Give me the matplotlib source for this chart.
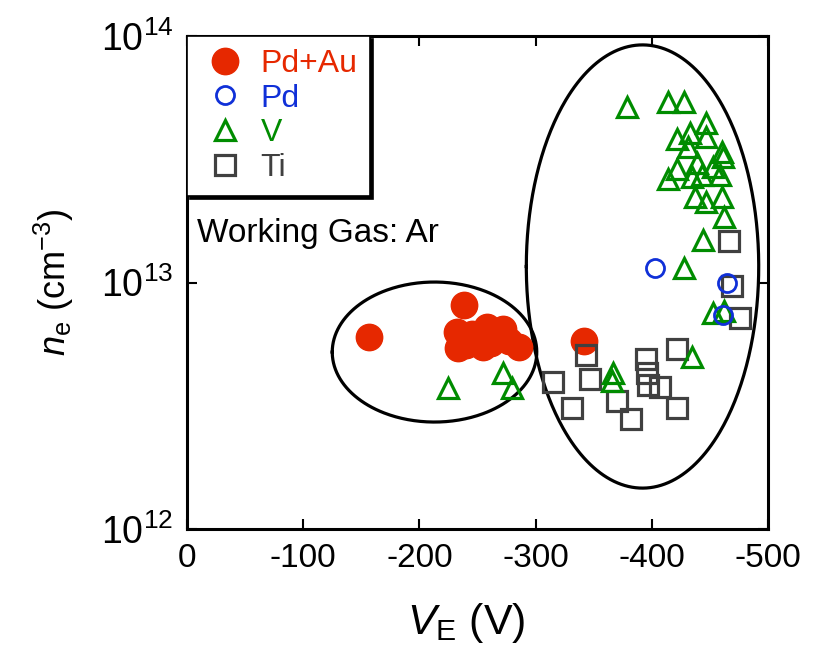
import numpy as np
import matplotlib
matplotlib.use("Agg")
import matplotlib.pyplot as plt
from matplotlib.lines import Line2D

plt.rcParams['font.family'] = ['Liberation Sans', 'DejaVu Sans']
plt.rcParams['mathtext.fontset'] = 'custom'
plt.rcParams['mathtext.rm'] = 'Liberation Sans'
plt.rcParams['mathtext.it'] = 'Liberation Sans:italic'

# ---------------- data ----------------
pdau_x = [-157, -238, -232, -233, -240, -245, -255, -258, -262, -272, -277, -286, -342]
pdau_y = [6.0e12, 8.1e12, 6.3e12, 5.4e12, 5.6e12, 6.2e12, 5.5e12, 6.6e12, 5.7e12,
          6.5e12, 5.8e12, 5.5e12, 5.8e12]

pd_x = [-403, -465, -461]
pd_y = [1.15e13, 1.0e13, 7.4e12]

v_x = [-225, -272, -280, -379, -414, -428, -447, -433, -422, -447, -431, -460, -461,
       -439, -422, -453, -443, -414, -435, -459, -437, -447, -460, -462, -444, -428,
       -453, -462, -367, -366, -435]
v_y = [3.73e12, 4.3e12, 3.73e12, 5.15e13, 5.4e13, 5.4e13, 4.43e13, 4.04e13, 3.82e13,
       3.89e13, 3.55e13, 3.39e13, 3.23e13, 3.05e13, 2.89e13, 2.94e13, 2.73e13,
       2.63e13, 2.68e13, 2.73e13, 2.22e13, 2.12e13, 2.22e13, 1.85e13, 1.49e13,
       1.15e13, 7.5e12, 7.7e12, 4.3e12, 4.0e12, 5.0e12]

ti_x = [-466, -469, -476, -343, -315, -347, -331, -370, -382, -395, -396, -397, -407,
        -422, -422]
ti_y = [1.47e13, 9.7e12, 7.2e12, 5.1e12, 3.95e12, 4.06e12, 3.1e12, 3.3e12, 2.79e12,
        4.9e12, 4.3e12, 3.84e12, 3.77e12, 5.37e12, 3.1e12]

series_labels = ['Pd+Au', 'Pd', 'V', 'Ti']
xticks = [0, -100, -200, -300, -400, -500]

# ellipse annotations (center x, center log10 y, radius x, radius in decades)
ell_left = (-213, 12.718, 88, 0.284)
ell_right = (-392, 13.065, 100, 0.899)

C_RED = '#e62800'
C_BLUE = '#1030d8'
C_GREEN = '#008c00'
C_GRAY = '#404040'

# ---------------- figure ----------------
fig = plt.figure(figsize=(8.18, 6.48), dpi=100)
ax = fig.add_axes([0.2286, 0.1836, 0.7103, 0.7608])
ax.set_yscale('log')
ax.set_xlim(0, -500)
ax.set_ylim(1e12, 1e14)

for (cx, cy, rx, ry) in (ell_left, ell_right):
    t = np.linspace(0, 2 * np.pi, 400)
    ax.plot(cx + rx * np.cos(t), 10 ** (cy + ry * np.sin(t)), color='black', lw=2.3, zorder=1)

ax.plot(ti_x, ti_y, ls='none', marker='s', ms=14, mfc='none', mec=C_GRAY, mew=2.3, zorder=3)
ax.plot(v_x, v_y, ls='none', marker='^', ms=14, mfc='none', mec=C_GREEN, mew=2.3, zorder=4)
ax.plot(pd_x, pd_y, ls='none', marker='o', ms=13, mfc='none', mec=C_BLUE, mew=2.0, zorder=5)
ax.plot(pdau_x, pdau_y, ls='none', marker='o', ms=19, mfc=C_RED, mec=C_RED, zorder=2)

handles = [
    Line2D([], [], ls='none', marker='o', ms=19, mfc=C_RED, mec=C_RED),
    Line2D([], [], ls='none', marker='o', ms=13, mfc='none', mec=C_BLUE, mew=2.0),
    Line2D([], [], ls='none', marker='^', ms=14, mfc='none', mec=C_GREEN, mew=2.3),
    Line2D([], [], ls='none', marker='s', ms=14, mfc='none', mec=C_GRAY, mew=2.3),
]
leg = ax.legend(handles, series_labels, loc='upper left', borderaxespad=0,
                fontsize=23, frameon=True, fancybox=False, shadow={'color': 'black', 'alpha': 1},
                handlelength=1.6, handletextpad=0.3, labelspacing=0.15, borderpad=0.4)
leg.get_frame().set_edgecolor('black')
leg.get_frame().set_linewidth(1.2)
for txt, c in zip(leg.get_texts(), [C_RED, C_BLUE, C_GREEN, C_GRAY]):
    txt.set_color(c)

ax.text(0.017, 0.60, 'Working Gas: Ar', transform=ax.transAxes, fontsize=24,
        ha='left', va='center')

ax.set_xticks(xticks)
ax.set_xticklabels([str(v) for v in xticks])
ax.minorticks_off()
ax.tick_params(axis='both', direction='in', length=7, width=1.5, top=True, right=True,
               labelsize=24, pad=10)
ax.tick_params(axis='y', labelsize=27)
for s in ax.spines.values():
    s.set_linewidth(2.2)

ax.set_xlabel('$V_\\mathrm{E}$ (V)', fontsize=31)
ax.xaxis.set_label_coords(0.48, -0.146)
ax.set_ylabel('$n_\\mathrm{e}$ (cm$^{-3}$)', fontsize=26, labelpad=18)

fig.savefig('out.png', dpi=100)
